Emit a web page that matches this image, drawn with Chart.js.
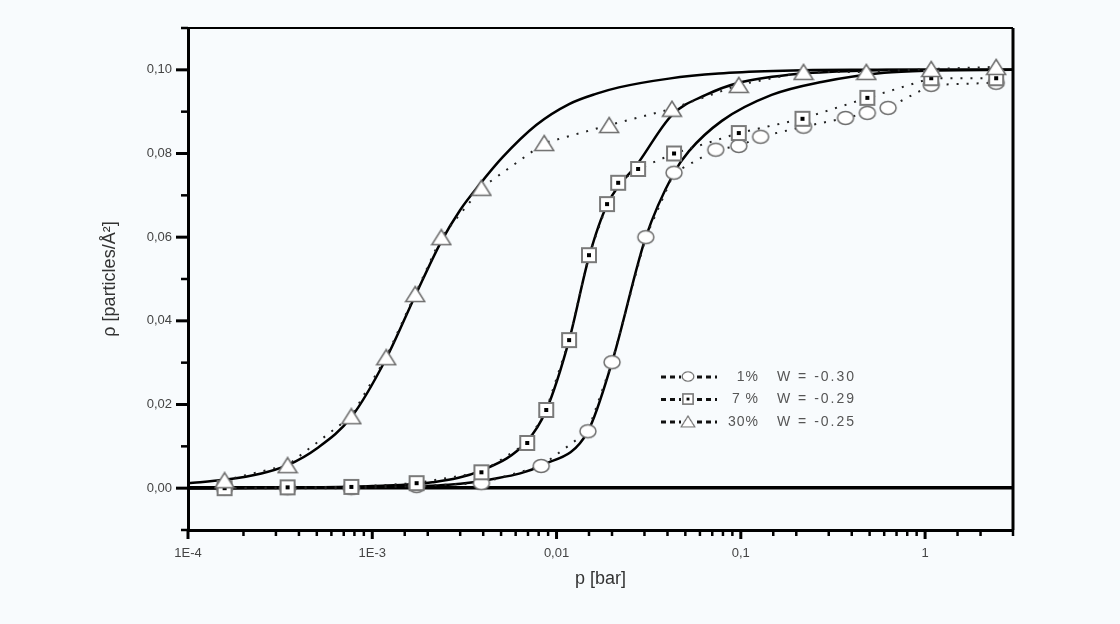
<!DOCTYPE html>
<html>
<head>
<meta charset="utf-8">
<script src="https://cdn.jsdelivr.net/npm/chart.js@4/dist/chart.umd.min.js"></script>
<style>
  html, body { margin: 0; padding: 0; background: #f8fbfd; }
  canvas { display: block; }
</style>
</head>
<body>
<canvas id="isoChart" width="1120" height="624"></canvas>
<script>
// measured points (p in bar, rho in particles/A^2)
var pCirc = [1.58e-4, 3.47e-4, 7.7e-4, 1.74e-3, 3.91e-3, 8.26e-3, 0.0148, 0.020, 0.0305, 0.0434, 0.0731, 0.0975, 0.128, 0.219, 0.37, 0.486, 0.63, 1.08, 2.43];
var rhoCirc = [0.0, 0.0, 0.0, 0.0005, 0.0012, 0.0053, 0.0136, 0.0301, 0.060, 0.0754, 0.0809, 0.0818, 0.084, 0.0864, 0.0885, 0.0897, 0.0909, 0.0964, 0.0969];

var pSq = [1.58e-4, 3.47e-4, 7.7e-4, 1.74e-3, 3.91e-3, 6.93e-3, 8.79e-3, 0.0117, 0.015, 0.0188, 0.0216, 0.0277, 0.0434, 0.0975, 0.216, 0.486, 1.08, 2.43];
var rhoSq = [0.0, 0.0002, 0.0003, 0.0012, 0.0038, 0.0108, 0.0187, 0.0354, 0.0557, 0.0679, 0.073, 0.0763, 0.080, 0.0849, 0.0883, 0.0933, 0.098, 0.098];

var pTri = [1.58e-4, 3.47e-4, 7.7e-4, 1.19e-3, 1.71e-3, 2.37e-3, 3.91e-3, 8.57e-3, 0.0193, 0.0423, 0.0975, 0.219, 0.48, 1.08, 2.43];
var rhoTri = [0.0019, 0.0055, 0.0172, 0.0313, 0.0464, 0.060, 0.0718, 0.0825, 0.0868, 0.0907, 0.0964, 0.0995, 0.0995, 0.1002, 0.1007];

// fitted curves
var pFitTri = [1e-4, 1.58e-4, 2.5e-4, 3.47e-4, 5e-4, 7.7e-4, 1.19e-3, 1.71e-3, 2.37e-3, 3.0e-3, 3.81e-3, 5.07e-3, 7.76e-3, 0.0117, 0.0165, 0.0218, 0.0407, 0.0758, 0.15, 0.4, 1, 3];
var rhoFitTri = [0.0012, 0.002, 0.0035, 0.0055, 0.0095, 0.017, 0.031, 0.046, 0.059, 0.0665, 0.0725, 0.0790, 0.0868, 0.0918, 0.0943, 0.0958, 0.0979, 0.0991, 0.0997, 0.1, 0.1, 0.1];

var pFitSq = [1e-4, 5e-4, 1e-3, 2.12e-3, 3.95e-3, 6.84e-3, 8.8e-3, 0.0117, 0.015, 0.0188, 0.028, 0.0423, 0.0646, 0.0975, 0.1815, 0.4, 1, 3];
var rhoFitSq = [0.0, 0.0002, 0.0005, 0.0014, 0.0043, 0.011, 0.0187, 0.0354, 0.0553, 0.0677, 0.078, 0.0892, 0.094, 0.0969, 0.0988, 0.0997, 0.1, 0.1];

var pFitCirc = [1e-4, 1e-3, 2.6e-3, 4.3e-3, 8.36e-3, 0.0148, 0.020, 0.0305, 0.0434, 0.0522, 0.0789, 0.147, 0.274, 0.6, 1, 3];
var rhoFitCirc = [0.0, 0.0003, 0.0008, 0.002, 0.0055, 0.0136, 0.0301, 0.060, 0.0754, 0.0805, 0.0878, 0.094, 0.0971, 0.0993, 0.0998, 0.1];

var seriesNames = ["1%", "7 %", "30%"];
var wValues = ["-0.30", "-0.29", "-0.25"];
var xTickLabels = ["1E-4", "1E-3", "0,01", "0,1", "1"];

function pts(xs, ys) {
  return xs.map(function (x, i) { return { x: x, y: ys[i] }; });
}

// marker images
function makeMarker(kind) {
  var c = document.createElement("canvas");
  c.width = 22; c.height = 18;
  var g = c.getContext("2d");
  g.fillStyle = "#fff";
  g.strokeStyle = "#6e6e6e";
  g.lineWidth = 1.5;
  if (kind === "circle") {
    g.beginPath();
    g.ellipse(11, 9, 8, 6.5, 0, 0, Math.PI * 2);
    g.fill(); g.stroke();
  } else if (kind === "square") {
    g.fillRect(4, 2, 14, 14);
    g.strokeStyle = "#7a7a7a";
    g.lineWidth = 2;
    g.strokeRect(4, 2, 14, 14);
    g.fillStyle = "#000";
    g.fillRect(9, 7, 4, 4);
  } else {
    g.beginPath();
    g.moveTo(11, 1.5);
    g.lineTo(20.5, 16.5);
    g.lineTo(1.5, 16.5);
    g.closePath();
    g.fill(); g.stroke();
  }
  return c;
}
var mkCirc = makeMarker("circle");
var mkSq = makeMarker("square");
var mkTri = makeMarker("triangle");
var markers = [mkCirc, mkSq, mkTri];

function isDecade(v) {
  var l = Math.log10(v);
  return Math.abs(l - Math.round(l)) < 1e-6;
}
function isEvenY(v) {
  return Math.round(v * 100) % 2 === 0;
}

var bgPlugin = {
  id: "bg",
  beforeDraw: function (chart) {
    var c = chart.ctx;
    c.save();
    c.fillStyle = "#f8fbfd";
    c.fillRect(0, 0, chart.width, chart.height);
    c.restore();
  }
};

// top/right frame and outward ticks (long major, short minor)
var framePlugin = {
  id: "frame",
  afterDraw: function (chart) {
    var a = chart.chartArea, c = chart.ctx;
    var xs = chart.scales.x, ys = chart.scales.y;
    c.save();
    c.strokeStyle = "#000";
    c.lineWidth = 2;
    c.beginPath();
    c.moveTo(a.left, a.top);
    c.lineTo(a.right, a.top);
    c.stroke();
    c.lineWidth = 3;
    c.beginPath();
    c.moveTo(a.right, a.top);
    c.lineTo(a.right, a.bottom);
    c.stroke();

    ys.ticks.forEach(function (t, i) {
      var py = ys.getPixelForTick(i);
      var major = isEvenY(t.value);
      c.lineWidth = major ? 3 : 2.5;
      c.beginPath();
      c.moveTo(a.left, py);
      c.lineTo(a.left - (major ? 12 : 7), py);
      c.stroke();
    });
    xs.ticks.forEach(function (t, i) {
      var px = xs.getPixelForTick(i);
      var major = isDecade(t.value);
      c.lineWidth = major ? 3 : 2.5;
      c.beginPath();
      c.moveTo(px, a.bottom);
      c.lineTo(px, a.bottom + (major ? 9 : 6));
      c.stroke();
    });
    c.restore();
  }
};

var legendPlugin = {
  id: "boxLegend",
  afterDraw: function (chart) {
    var a = chart.chartArea, c = chart.ctx;
    var x0 = a.left + 473;
    var y0 = a.top + 349;
    c.save();
    for (var i = 0; i < seriesNames.length; i++) {
      var y = y0 + i * 22.5;
      c.strokeStyle = "#111";
      c.lineWidth = 3;
      c.setLineDash([5, 4]);
      c.beginPath();
      c.moveTo(x0, y);
      c.lineTo(x0 + 56, y);
      c.stroke();
      c.setLineDash([]);
      c.fillStyle = "#f8fbfd";
      c.fillRect(x0 + 20, y - 8, 14, 16);
      c.drawImage(markers[i], x0 + 27 - 8, y - 7, 16, 13);
      c.fillStyle = "#555";
      c.font = "14px 'Liberation Sans'";
      c.textBaseline = "middle";
      c.letterSpacing = "1px";
      c.textAlign = "right";
      c.fillText(seriesNames[i], x0 + 98, y);
      c.textAlign = "left";
      c.letterSpacing = "2px";
      c.fillText("W = " + wValues[i], x0 + 116, y);
    }
    c.restore();
  }
};

var ctx = document.getElementById("isoChart").getContext("2d");
new Chart(ctx, {
  type: "scatter",
  data: {
    datasets: [
      {
        label: "30%",
        data: pts(pTri, rhoTri),
        showLine: true,
        borderColor: "#222",
        borderWidth: 2,
        borderDash: [2, 8],
        pointStyle: mkTri,
        order: 0
      },
      {
        label: "7 %",
        data: pts(pSq, rhoSq),
        showLine: true,
        borderColor: "#222",
        borderWidth: 2,
        borderDash: [2, 8],
        pointStyle: mkSq,
        order: 1
      },
      {
        label: "1%",
        data: pts(pCirc, rhoCirc),
        showLine: true,
        borderColor: "#222",
        borderWidth: 2,
        borderDash: [2, 8],
        pointStyle: mkCirc,
        order: 2
      },
      {
        label: "fit 30%",
        data: pts(pFitTri, rhoFitTri),
        showLine: true,
        borderColor: "#000",
        borderWidth: 2.5,
        pointRadius: 0,
        cubicInterpolationMode: "monotone",
        order: 3
      },
      {
        label: "fit 7%",
        data: pts(pFitSq, rhoFitSq),
        showLine: true,
        borderColor: "#000",
        borderWidth: 2.5,
        pointRadius: 0,
        cubicInterpolationMode: "monotone",
        order: 4
      },
      {
        label: "fit 1%",
        data: pts(pFitCirc, rhoFitCirc),
        showLine: true,
        borderColor: "#000",
        borderWidth: 2.5,
        pointRadius: 0,
        cubicInterpolationMode: "monotone",
        order: 5
      }
    ]
  },
  options: {
    responsive: false,
    animation: false,
    layout: { padding: { left: 95, right: 107, top: 28, bottom: 30 } },
    plugins: {
      legend: { display: false },
      tooltip: { enabled: false }
    },
    scales: {
      x: {
        type: "logarithmic",
        min: 1e-4,
        max: 3,
        afterFit: function (s) { s.height = 64; },
        border: { color: "#000", width: 3 },
        grid: { drawOnChartArea: false, drawTicks: false },
        ticks: {
          autoSkip: false,
          maxRotation: 0,
          color: "#444",
          font: { family: "'Liberation Sans'", size: 13 },
          padding: 16,
          callback: function (v) {
            if (!isDecade(v)) return "";
            return xTickLabels[Math.round(Math.log10(v)) + 4];
          }
        },
        title: {
          display: true,
          text: "p [bar]",
          color: "#333",
          font: { family: "'Liberation Sans'", size: 18 }
        }
      },
      y: {
        min: -0.01,
        max: 0.11,
        afterFit: function (s) { s.width = 93; },
        border: { color: "#000", width: 3 },
        grid: {
          drawOnChartArea: true,
          drawTicks: false,
          color: function (c) { return Math.abs(c.tick.value) < 1e-9 ? "#000" : "rgba(0,0,0,0)"; },
          lineWidth: function (c) { return Math.abs(c.tick.value) < 1e-9 ? 3.5 : 1; }
        },
        ticks: {
          stepSize: 0.01,
          autoSkip: false,
          color: "#444",
          font: { family: "'Liberation Sans'", size: 13 },
          padding: 16,
          callback: function (v) {
            if (!isEvenY(v)) return "";
            return (Math.round(v * 100) / 100).toFixed(2).replace(".", ",");
          }
        },
        title: {
          display: true,
          text: "ρ [particles/Å²]",
          color: "#333",
          font: { family: "'Liberation Sans'", size: 18 }
        }
      }
    }
  },
  plugins: [bgPlugin, framePlugin, legendPlugin]
});
</script>
</body>
</html>
